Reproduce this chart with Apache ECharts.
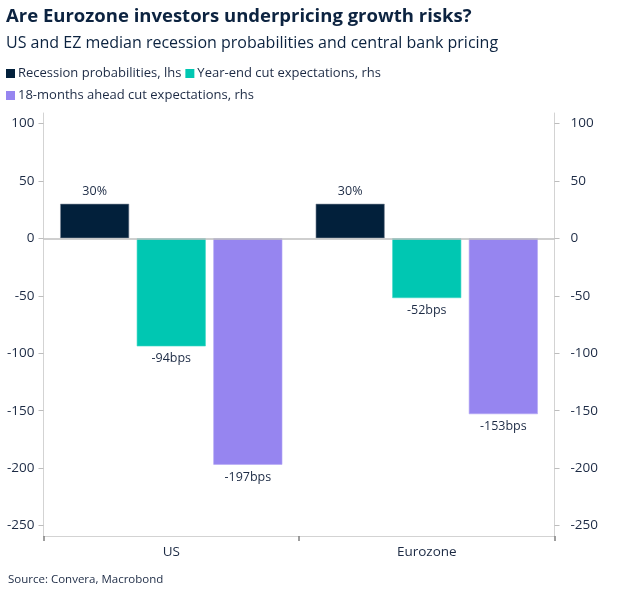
<!DOCTYPE html>
<html>
<head>
<meta charset="utf-8">
<script src="https://cdn.jsdelivr.net/npm/echarts@6/dist/echarts.min.js"></script>
<style>
html,body{margin:0;padding:0;background:#fff;}
#chart{width:633px;height:598px;}
</style>
</head>
<body>
<div id="chart"></div>
<script>
const categories = ['US', 'Eurozone'];
const recessionProb = [30, 30];
const yearEndCuts = [-94, -52];
const ahead18mCuts = [-197, -153];
const yTicks = [-250, -200, -150, -100, -50, 0, 50, 100];
const seriesNames = ['Recession probabilities, lhs', 'Year-end cut expectations, rhs', '18-months ahead cut expectations, rhs'];

const FONT = '"Open Sans", "Noto Sans", sans-serif';
const TXT = '#1c2a44';
const chart = echarts.init(document.getElementById('chart'), null, {renderer: 'canvas'});

const yAxisBase = (pos, margin) => ({
  type: 'value',
  position: pos,
  min: -259,
  max: 109,
  axisLine: {show: true, lineStyle: {color: '#d3d3d3', width: 1}},
  axisTick: {show: true, length: 5, lineStyle: {color: '#bdbdbd'}, customValues: yTicks},
  axisLabel: {color: TXT, fontFamily: FONT, fontSize: 13.5, margin: margin, customValues: yTicks},
  splitLine: {show: false}
});

const labelStyle = (fmt, pos) => ({
  show: true, position: pos, distance: 6, color: TXT, fontFamily: FONT, fontSize: 12.5,
  formatter: p => fmt(p.value)
});

const legendBase = (names, top) => ({
  data: names, left: 1, top: top, icon: 'rect', itemWidth: 9, itemHeight: 9, itemGap: 4,
  itemStyle: {borderWidth: 0},
  textStyle: {fontFamily: FONT, fontSize: 13, color: TXT, padding: [0, 0, 0, -2]}
});

chart.setOption({
  animation: false,
  backgroundColor: '#fff',
  title: [
    {text: 'Are Eurozone investors underpricing growth risks?', left: 1, top: 2,
     textStyle: {fontFamily: FONT, fontSize: 18.5, fontWeight: 'bold', color: '#0c2340'}},
    {text: 'US and EZ median recession probabilities and central bank pricing', left: 1, top: 30,
     textStyle: {fontFamily: FONT, fontSize: 16, fontWeight: 'normal', color: '#0c2340'}},
    {text: 'Source: Convera, Macrobond', left: 3, top: 569,
     textStyle: {fontFamily: FONT, fontSize: 11.5, fontWeight: 'normal', color: TXT}}
  ],
  legend: [
    legendBase([seriesNames[0], seriesNames[1]], 62),
    legendBase([seriesNames[2]], 84)
  ],
  grid: {left: 43.5, right: 78.5, top: 113, bottom: 62, containLabel: false},
  xAxis: {
    type: 'category',
    data: categories,
    position: 'bottom',
    axisLine: {show: true, onZero: false, lineStyle: {color: '#d3d3d3'}},
    axisTick: {show: true, length: 5, lineStyle: {color: '#808080', width: 1.5}},
    axisLabel: {color: TXT, fontFamily: FONT, fontSize: 13.5, margin: 9}
  },
  yAxis: [yAxisBase('left', 9), yAxisBase('right', 16)],
  series: [
    {name: seriesNames[0], type: 'bar', yAxisIndex: 0, data: recessionProb,
     barWidth: '27%', barGap: '11%',
     itemStyle: {color: '#02203b', borderColor: '#7f8a98', borderWidth: 0.6},
     label: labelStyle(v => v + '%', 'top'),
     markLine: {silent: true, symbol: 'none', label: {show: false},
       lineStyle: {color: '#bfbfbf', width: 1.5, type: 'solid'}, data: [{yAxis: 0}]}},
    {name: seriesNames[1], type: 'bar', yAxisIndex: 1, data: yearEndCuts,
     barWidth: '27%', barGap: '11%',
     itemStyle: {color: '#00c7b2', borderColor: '#3fd8c6', borderWidth: 0.6},
     label: labelStyle(v => v + 'bps', 'bottom')},
    {name: seriesNames[2], type: 'bar', yAxisIndex: 1, data: ahead18mCuts,
     barWidth: '27%', barGap: '11%',
     itemStyle: {color: '#9685f0', borderColor: '#b3a8f5', borderWidth: 0.6},
     label: labelStyle(v => v + 'bps', 'bottom')}
  ]
});
</script>
</body>
</html>
